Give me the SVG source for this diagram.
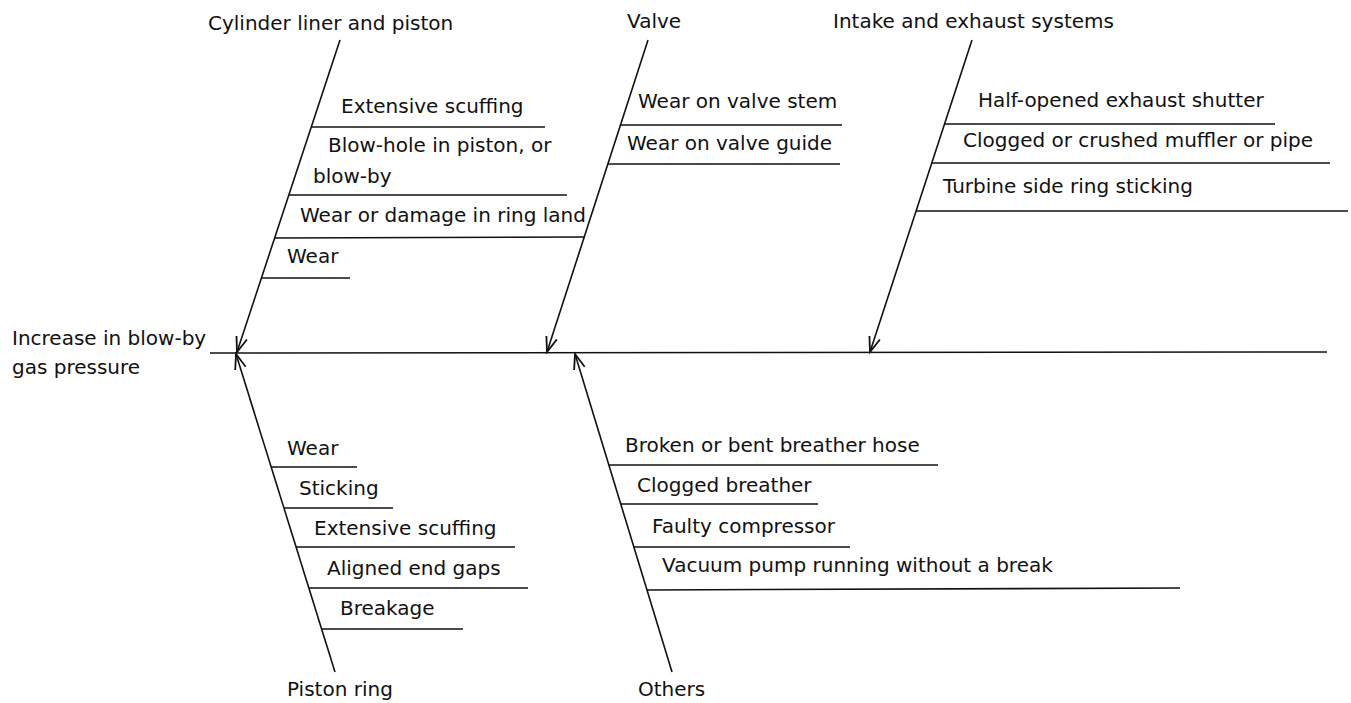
<svg xmlns="http://www.w3.org/2000/svg" width="1351" height="703" viewBox="0 0 1351 703">
<style>
text{font-family:"DejaVu Sans",sans-serif;font-size:20px;fill:#111}
.l{stroke:#111;stroke-width:1.6;fill:none}
</style>
<defs>
<marker id="ah" markerUnits="userSpaceOnUse" markerWidth="20" markerHeight="14" viewBox="-16 -7 18 14" refX="0" refY="0" orient="auto">
<path d="M-15,-5.5 L0,0 L-15,5.5" stroke="#111" stroke-width="1.8" fill="none"/>
</marker>
</defs>
<rect width="1351" height="703" fill="#fff"/>
<g id="effect">
<text x="12" y="345">Increase in blow-by</text>
<text x="12" y="374">gas pressure</text>
</g>
<g id="connectors">
<line class="l" x1="210" y1="353" x2="1327" y2="352"/>
<line class="l" x1="340" y1="40" x2="237" y2="352" marker-end="url(#ah)"/>
<line class="l" x1="648" y1="40" x2="547" y2="352" marker-end="url(#ah)"/>
<line class="l" x1="972" y1="40" x2="870" y2="352" marker-end="url(#ah)"/>
<line class="l" x1="335" y1="672" x2="236" y2="354" marker-end="url(#ah)"/>
<line class="l" x1="672" y1="672" x2="575" y2="354" marker-end="url(#ah)"/>
</g>
<g id="cylinder">
<text x="208" y="30">Cylinder liner and piston</text>
<text x="341" y="113">Extensive scuffing</text>
<line class="l" x1="311" y1="127" x2="545" y2="127"/>
<text x="328" y="152">Blow-hole in piston, or</text>
<text x="313" y="183">blow-by</text>
<line class="l" x1="289" y1="195" x2="567" y2="195"/>
<text x="300" y="222">Wear or damage in ring land</text>
<line class="l" x1="275" y1="238" x2="585" y2="237"/>
<text x="287" y="263">Wear</text>
<line class="l" x1="262" y1="278" x2="350" y2="278"/>
</g>
<g id="valve">
<text x="627" y="28">Valve</text>
<text x="638" y="108">Wear on valve stem</text>
<line class="l" x1="621" y1="125" x2="842" y2="125"/>
<text x="627" y="150">Wear on valve guide</text>
<line class="l" x1="608" y1="164" x2="840" y2="164"/>
</g>
<g id="intake">
<text x="833" y="28">Intake and exhaust systems</text>
<text x="978" y="107">Half-opened exhaust shutter</text>
<line class="l" x1="945" y1="124" x2="1275" y2="124"/>
<text x="963" y="147">Clogged or crushed muffler or pipe</text>
<line class="l" x1="932" y1="163" x2="1330" y2="163"/>
<text x="943" y="193">Turbine side ring sticking</text>
<line class="l" x1="916" y1="211" x2="1348" y2="211"/>
</g>
<g id="pistonring">
<text x="287" y="455">Wear</text>
<line class="l" x1="271" y1="467" x2="357" y2="467"/>
<text x="299" y="495">Sticking</text>
<line class="l" x1="284" y1="508" x2="393" y2="508"/>
<text x="314" y="535">Extensive scuffing</text>
<line class="l" x1="296" y1="547" x2="515" y2="547"/>
<text x="327" y="575">Aligned end gaps</text>
<line class="l" x1="309" y1="588" x2="528" y2="588"/>
<text x="340" y="615">Breakage</text>
<line class="l" x1="322" y1="629" x2="463" y2="629"/>
<text x="287" y="696">Piston ring</text>
</g>
<g id="others">
<text x="625" y="452">Broken or bent breather hose</text>
<line class="l" x1="609" y1="465" x2="938" y2="465"/>
<text x="637" y="492">Clogged breather</text>
<line class="l" x1="621" y1="504" x2="818" y2="504"/>
<text x="652" y="533">Faulty compressor</text>
<line class="l" x1="634" y1="547" x2="850" y2="547"/>
<text x="662" y="572">Vacuum pump running without a break</text>
<line class="l" x1="647" y1="590" x2="1180" y2="588"/>
<text x="638" y="696">Others</text>
</g>
</svg>
